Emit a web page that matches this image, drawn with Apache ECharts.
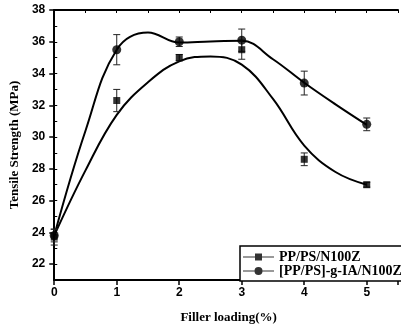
<!DOCTYPE html>
<html>
<head>
<meta charset="utf-8">
<script src="https://cdn.jsdelivr.net/npm/echarts@6/dist/echarts.min.js"></script>
<style>
  html, body { margin: 0; padding: 0; background: #fff; }
  #chart { width: 401px; height: 329px; }
</style>
</head>
<body>
<div id="chart"></div>
<script>
// Measured tensile strength at each filler loading (%), with error bars
const loading = [0, 1, 2, 3, 4, 5];
const blendValues = [23.7, 32.3, 35.0, 35.5, 28.6, 27.0];
const blendErrors = [0.5, 0.7, 0.2, 0.6, 0.4, 0.15];
const graftValues = [23.8, 35.5, 36.0, 36.1, 33.4, 30.8];
const graftErrors = [0.4, 0.95, 0.3, 0.7, 0.75, 0.4];

// Fitted trend curves for both compositions
const fitLoading = [0, 0.5, 1, 1.5, 2, 2.5, 3, 3.5, 4, 4.5, 5];
const blendFit = [23.8, 27.9, 31.4, 33.45, 34.77, 35.08, 34.56, 32.4, 29.46, 27.8, 27.0];
const graftFit = [23.8, 30.4, 35.5, 36.58, 35.95, 36.02, 36.06, 34.9, 33.42, 32.06, 30.77];

const yTickLabels = [22, 24, 26, 28, 30, 32, 34, 36, 38];
const seriesNames = ['PP/PS/N100Z', '[PP/PS]-g-IA/N100Z'];

const zip = (xs, ys) => xs.map((x, i) => [x, ys[i]]);
const zip3 = (xs, ys, es) => xs.map((x, i) => [x, ys[i], es[i]]);

const tickFont = { fontFamily: 'Liberation Sans', fontWeight: 'bold', fontSize: 12, color: '#000' };
const nameFont = { fontFamily: 'Liberation Serif', fontWeight: 'bold', fontSize: 13, color: '#000' };

function errorBar(params, api) {
  const x = api.value(0), y = api.value(1), e = api.value(2);
  const top = api.coord([x, y + e]);
  const bot = api.coord([x, y - e]);
  const w = 3.5;
  const style = { stroke: '#222', lineWidth: 1 };
  return {
    type: 'group',
    children: [
      { type: 'line', shape: { x1: top[0], y1: top[1], x2: bot[0], y2: bot[1] }, style },
      { type: 'line', shape: { x1: top[0] - w, y1: top[1], x2: top[0] + w, y2: top[1] }, style },
      { type: 'line', shape: { x1: bot[0] - w, y1: bot[1], x2: bot[0] + w, y2: bot[1] }, style }
    ]
  };
}

const chart = echarts.init(document.getElementById('chart'), null, { renderer: 'canvas' });

chart.setOption({
  animation: false,
  backgroundColor: '#fff',
  grid: { left: 53, top: 10, right: -5, bottom: 46, containLabel: false },
  xAxis: [
    {
      type: 'value', min: 0, max: 5.5, interval: 1, position: 'bottom',
      axisLine: { lineStyle: { color: '#000', width: 2 } },
      axisTick: { show: true, inside: false, length: 5, lineStyle: { color: '#000', width: 1.5 } },
      axisLabel: Object.assign({ margin: 7, formatter: v => (v % 1 === 0 ? String(v) : '') }, tickFont),
      splitLine: { show: false },
      name: 'Filler loading(%)', nameLocation: 'middle', nameGap: 31,
      nameTextStyle: Object.assign({ padding: [0, 0, 0, 5] }, nameFont)
    },
    {
      type: 'value', min: 0, max: 5.5, interval: 0.5, position: 'top',
      axisLine: { lineStyle: { color: '#000', width: 2 } },
      axisTick: { show: true, inside: true, length: 3, lineStyle: { color: '#000', width: 1 } },
      axisLabel: { show: false },
      splitLine: { show: false }
    }
  ],
  yAxis: [
    {
      type: 'value', min: 21, max: 38, position: 'left',
      axisLine: { show: true, lineStyle: { color: '#000', width: 2 } },
      axisTick: { show: true, inside: false, length: 5, customValues: yTickLabels, lineStyle: { color: '#000', width: 1.5 } },
      axisLabel: Object.assign({ margin: 9, customValues: yTickLabels }, tickFont),
      splitLine: { show: false },
      name: 'Tensile Strength (MPa)', nameLocation: 'middle', nameGap: 30,
      nameTextStyle: nameFont
    },
    {
      type: 'value', min: 21, max: 38, interval: 1, position: 'left',
      axisLine: { show: false },
      axisTick: { show: true, inside: true, length: 3, lineStyle: { color: '#000', width: 1 } },
      axisLabel: { show: false },
      splitLine: { show: false }
    }
  ],
  legend: {
    orient: 'vertical',
    left: 240, top: 246,
    padding: [4, 20, 3, 3],
    itemGap: 0,
    itemWidth: 31, itemHeight: 8,
    borderColor: '#000', borderWidth: 1.5, backgroundColor: '#fff',
    textStyle: { fontFamily: 'Liberation Serif', fontWeight: 'bold', fontSize: 14, color: '#000', lineHeight: 13 },
    data: [
      { name: seriesNames[0], icon: 'path://M0,3.4H31V4.6H0Z M12,0.5H19V7.5H12Z' },
      { name: seriesNames[1], icon: 'path://M0,3.4H31V4.6H0Z M15.5,0A4,4 0 1,1 15.5,8A4,4 0 1,1 15.5,0Z' }
    ],
    z: 10
  },
  series: [
    {
      name: 'fit-blend', type: 'line', smooth: 0.4, showSymbol: false,
      data: zip(fitLoading, blendFit),
      lineStyle: { color: '#000', width: 2 }, silent: true, z: 2
    },
    {
      name: 'fit-graft', type: 'line', smooth: 0.4, showSymbol: false,
      data: zip(fitLoading, graftFit),
      lineStyle: { color: '#000', width: 2 }, silent: true, z: 2
    },
    {
      name: 'err-blend', type: 'custom', renderItem: errorBar,
      data: zip3(loading, blendValues, blendErrors), z: 3, silent: true
    },
    {
      name: 'err-graft', type: 'custom', renderItem: errorBar,
      data: zip3(loading, graftValues, graftErrors), z: 3, silent: true
    },
    {
      name: seriesNames[0], type: 'scatter', symbol: 'rect', symbolSize: 7,
      data: zip(loading, blendValues),
      itemStyle: { color: '#000' }, z: 4
    },
    {
      name: seriesNames[1], type: 'scatter', symbol: 'circle', symbolSize: 9,
      data: zip(loading, graftValues),
      itemStyle: { color: '#000' }, z: 4
    }
  ]
});
</script>
</body>
</html>
